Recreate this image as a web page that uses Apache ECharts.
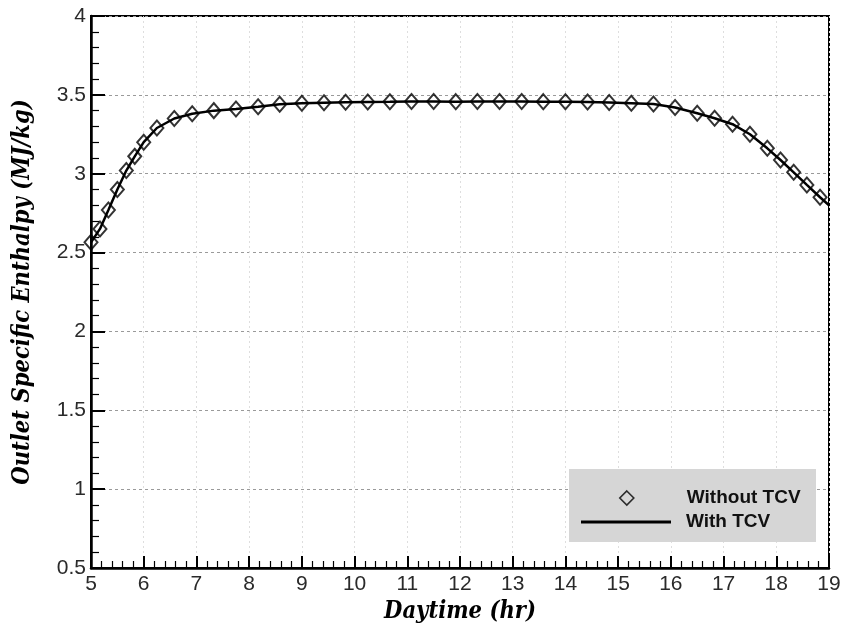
<!DOCTYPE html>
<html>
<head>
<meta charset="utf-8">
<script src="https://cdn.jsdelivr.net/npm/echarts@6/dist/echarts.min.js"></script>
<style>
  html, body { margin: 0; padding: 0; background: #fff; }
  #chart { width: 847px; height: 630px; }
</style>
</head>
<body>
<div id="chart"></div>
<script>
// Daytime (hr) at each sample
const hours = [
  5.0, 5.17, 5.33, 5.5, 5.67, 5.83, 6.0, 6.25, 6.58, 6.92,
  7.33, 7.75, 8.17, 8.58, 9.0, 9.42, 9.83, 10.25, 10.67, 11.08,
  11.5, 11.92, 12.33, 12.75, 13.17, 13.58, 14.0, 14.42, 14.83, 15.25,
  15.67, 16.08, 16.5, 16.83, 17.17, 17.5, 17.83, 18.08, 18.33, 18.58,
  18.83
];
// Outlet specific enthalpy (MJ/kg) without the TCV
const withoutTcv = [
  2.565, 2.65, 2.77, 2.90, 3.02, 3.11, 3.20, 3.29, 3.35, 3.38,
  3.40, 3.41, 3.425, 3.44, 3.447, 3.45, 3.453, 3.455, 3.456, 3.458,
  3.458, 3.457, 3.458, 3.458, 3.458, 3.457, 3.456, 3.455, 3.452, 3.447,
  3.442, 3.42, 3.383, 3.352, 3.314, 3.25, 3.161, 3.087, 3.009, 2.929,
  2.851
];
// Outlet specific enthalpy (MJ/kg) with the TCV, sampled to the end of the day
const hoursTcv = hours.concat([19.0]);
const withTcv = withoutTcv.concat([2.80]);

const xTicks = { min: 5, max: 19, step: 1 };
const yTicks = { min: 0.5, max: 4, step: 0.5 };

const chart = echarts.init(document.getElementById('chart'), null, { renderer: 'canvas' });

const tickFont = { fontFamily: '"Liberation Sans", Arial, sans-serif', fontSize: 21, color: '#2a2a2a' };
const titleFont = {
  fontFamily: '"DejaVu Serif Condensed", "DejaVu Serif", serif',
  fontWeight: 'bold', fontStyle: 'italic', fontSize: 23.5, color: '#000'
};
const legendFont = {
  fontFamily: '"Liberation Sans", Arial, sans-serif',
  fontWeight: 'bold', fontSize: 19, lineHeight: 22, color: '#111'
};

chart.setOption({
  animation: false,
  backgroundColor: '#ffffff',
  grid: {
    left: 91, right: 18, top: 16, bottom: 62,
    show: true, borderColor: '#000', borderWidth: 2
  },
  // grey panel behind the legend entries
  graphic: [{
    type: 'rect', left: 569, top: 469, z: 3,
    shape: { width: 247, height: 73 },
    style: { fill: '#d6d6d6' }
  }],
  legend: [
    {
      left: 619, top: 487, padding: 0,
      itemWidth: 14, itemHeight: 14,
      textStyle: Object.assign({ padding: [0, 0, 0, 48] }, legendFont),
      itemStyle: { color: 'rgba(0,0,0,0)', borderColor: '#000', borderWidth: 1.6 },
      data: [{ name: 'Without TCV', icon: 'diamond' }],
      z: 5
    },
    {
      left: 581, top: 511, padding: 0,
      itemWidth: 90, itemHeight: 3,
      textStyle: Object.assign({ padding: [0, 0, 0, 10] }, legendFont),
      itemStyle: { color: '#000', borderWidth: 0 },
      data: [{ name: 'With TCV', icon: 'rect' }],
      z: 5
    }
  ],
  xAxis: {
    type: 'value',
    min: xTicks.min, max: xTicks.max, interval: xTicks.step,
    name: 'Daytime (hr)',
    nameLocation: 'middle', nameGap: 27,
    nameTextStyle: titleFont,
    axisLine: { show: true, onZero: false, lineStyle: { color: '#000', width: 2.5 } },
    axisTick: { show: true, inside: true, length: 12, lineStyle: { color: '#000', width: 2 } },
    minorTick: { show: true, splitNumber: 5, length: 7, lineStyle: { color: '#000', width: 1.2 } },
    axisLabel: Object.assign({ margin: 6 }, tickFont),
    splitLine: { show: true, lineStyle: { color: '#dedede', type: [2, 3], width: 1 } },
    minorSplitLine: { show: false }
  },
  yAxis: {
    type: 'value',
    min: yTicks.min, max: yTicks.max, interval: yTicks.step,
    name: 'Outlet Specific Enthalpy (MJ/kg)',
    nameLocation: 'middle', nameGap: 57,
    nameTextStyle: titleFont,
    axisLine: { show: true, onZero: false, lineStyle: { color: '#000', width: 2.5 } },
    axisTick: { show: true, inside: true, length: 14, lineStyle: { color: '#000', width: 2 } },
    minorTick: { show: true, splitNumber: 5, length: 8, lineStyle: { color: '#000', width: 1.2 } },
    axisLabel: Object.assign({ margin: 5 }, tickFont),
    splitLine: { show: true, lineStyle: { color: '#9a9a9a', type: [3, 3], width: 1 } }
  },
  series: [
    {
      name: 'With TCV',
      type: 'line',
      data: hoursTcv.map((h, i) => [h, withTcv[i]]),
      symbol: 'none',
      showSymbol: false,
      lineStyle: { color: '#000', width: 2.5 },
      itemStyle: { color: '#000' },
      z: 2
    },
    {
      name: 'Without TCV',
      type: 'scatter',
      data: hours.map((h, i) => [h, withoutTcv[i]]),
      symbol: 'diamond',
      symbolSize: [13, 15],
      itemStyle: { color: 'rgba(255,255,255,0)', borderColor: '#000', borderWidth: 2 },
      z: 3
    }
  ]
});
</script>
</body>
</html>
